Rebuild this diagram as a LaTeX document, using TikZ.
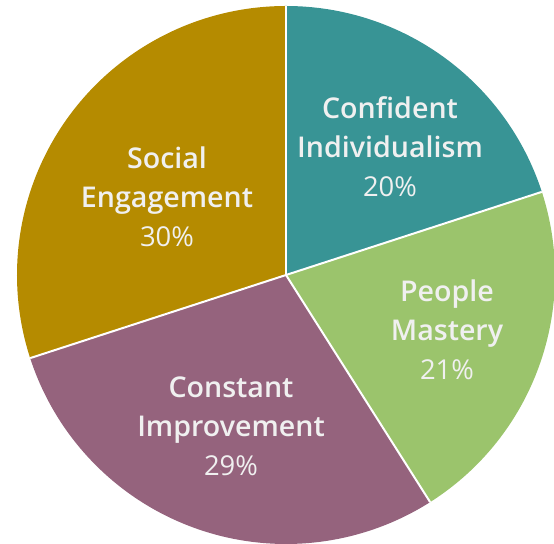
\documentclass[tikz,border=0pt]{standalone}
\usepackage{fontspec}
\setmainfont{Open Sans}[BoldFont={Open Sans Semibold}]
\usetikzlibrary{calc}
\definecolor{cgold}{HTML}{B58B00}
\definecolor{cteal}{HTML}{389495}
\definecolor{cgreen}{HTML}{9BC46C}
\definecolor{cmauve}{HTML}{95637D}
\definecolor{ctext}{HTML}{F0F0F0}
\newcommand{\ttl}[1]{{\fontsize{28.7}{39}\selectfont\bfseries #1}}
\tikzset{
  lbl/.style={text=ctext, align=center, inner sep=0pt, font=\fontsize{27.5}{39}\selectfont},
  sep/.style={draw=white, line width=2bp}
}
\begin{document}
\begin{tikzpicture}[x=1bp,y=1bp]
\useasboundingbox (0,0) rectangle (554,544);
\coordinate (c) at (286,269);
\def\R{269}
\fill[cteal]  (c) -- ++(90:\R)  arc[start angle=90,  end angle=18,   radius=\R] -- cycle;
\fill[cgreen] (c) -- ++(18:\R)  arc[start angle=18,  end angle=-57.6, radius=\R] -- cycle;
\fill[cmauve] (c) -- ++(-57.6:\R) arc[start angle=-57.6, end angle=-162, radius=\R] -- cycle;
\fill[cgold]  (c) -- ++(-162:\R) arc[start angle=-162, end angle=-270, radius=\R] -- cycle;
\coordinate (b1) at ($(c)+(90:\R)$);
\coordinate (b2) at ($(c)+(18:\R)$);
\coordinate (b3) at ($(c)+(-57.6:\R)$);
\coordinate (b4) at ($(c)+(-162:\R)$);
\draw[sep] (c) -- (b1);
\draw[sep] (c) -- (b2);
\draw[sep] (c) -- (b3);
\draw[sep] (c) -- (b4);
\node[lbl] (ci) at (390,397) {\ttl{Confident}\\\ttl{Individualism}\\20\%};
\node[lbl] (pm) at (447,214) {\ttl{People}\\\ttl{Mastery}\\21\%};
\node[lbl] (cim) at (231,118) {\ttl{Constant}\\\ttl{Improvement}\\29\%};
\node[lbl] (se) at (167,347) {\ttl{Social}\\\ttl{Engagement}\\30\%};
\end{tikzpicture}
\end{document}
